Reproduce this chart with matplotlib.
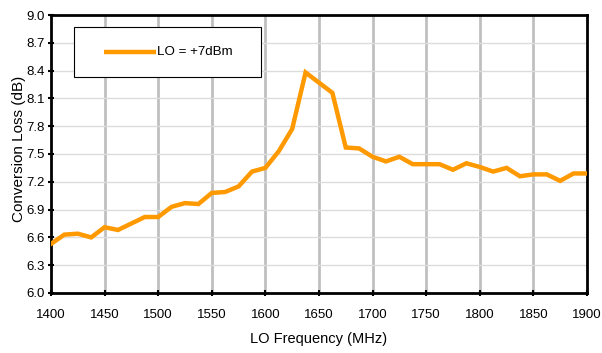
import matplotlib.pyplot as plt
from matplotlib.patches import Rectangle
import numpy as np

# Datos (paso de 12.5 MHz)
freq_start = 1400
freq_stop = 1900
freq_step = 12.5
perdida = [6.53, 6.63, 6.64, 6.60, 6.71, 6.68, 6.75, 6.82, 6.82, 6.93,
           6.97, 6.96, 7.08, 7.09, 7.15, 7.31, 7.35, 7.53, 7.77, 8.38,
           8.27, 8.16, 7.57, 7.56, 7.47, 7.42, 7.47, 7.39, 7.39, 7.39,
           7.33, 7.40, 7.36, 7.31, 7.35, 7.26, 7.28, 7.28, 7.21, 7.29,
           7.29]
frecuencia = np.arange(freq_start, freq_stop + freq_step / 2, freq_step)
etiqueta = 'LO = +7dBm'

xticks = list(range(1400, 1901, 50))
yticks = [6.0, 6.3, 6.6, 6.9, 7.2, 7.5, 7.8, 8.1, 8.4, 8.7, 9.0]

plt.rcParams['font.family'] = ['Liberation Sans', 'DejaVu Sans']

fig = plt.figure(figsize=(6.02, 3.53), dpi=100)
ax = fig.add_axes([0.0847, 0.17, 0.8903, 0.7875])

# Rejilla: vertical gris marcada, horizontal tenue
for x in xticks[1:-1]:
    ax.axvline(x, color='#c0c0c0', lw=2, zorder=1)
for y in yticks[1:-1]:
    ax.axhline(y, color='#dcdcdc', lw=1, zorder=1)

ax.plot(frecuencia, perdida, color='#ff9900', lw=3.2, solid_joinstyle='miter',
        zorder=3)

ax.set_xlim(1400, 1900)
ax.set_ylim(6.0, 9.0)
ax.set_xticks(xticks)
ax.set_yticks(yticks)
ax.set_yticklabels([f'{v:.1f}' for v in yticks])
ax.tick_params(axis='both', labelsize=9.5, direction='inout', length=5,
               width=1.5, color='black')
ax.tick_params(axis='x', pad=9)
ax.tick_params(axis='y', pad=2)
for s in ax.spines.values():
    s.set_linewidth(2)
    s.set_color('black')

ax.set_xlabel('LO Frequency (MHz)', fontsize=10.5)
ax.xaxis.set_label_coords(0.5, -0.142)
ax.set_ylabel('Conversion Loss (dB)', fontsize=11)
ax.yaxis.set_label_coords(-0.047, 0.52)

# Leyenda dibujada a mano (caja, muestra de linea y texto)
ax.add_patch(Rectangle((0.043, 0.777), 0.349, 0.18, transform=ax.transAxes,
                       facecolor='white', edgecolor='black', lw=0.8, zorder=5))
ax.plot([0.099, 0.196], [0.867, 0.867], transform=ax.transAxes,
        color='#ff9900', lw=3.2, solid_capstyle='butt', zorder=6)
ax.text(0.198, 0.867, etiqueta, transform=ax.transAxes, fontsize=9.6,
        va='center', ha='left', zorder=6)

plt.savefig('out.png', dpi=100)
